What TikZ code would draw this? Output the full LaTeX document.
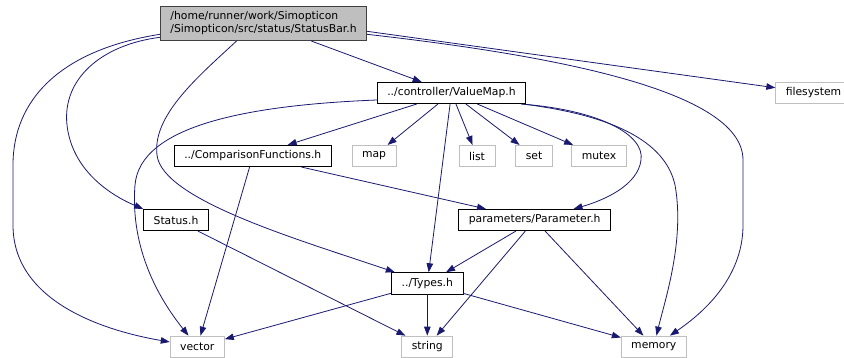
\documentclass[tikz,border=0pt]{standalone}
\usepackage{fontspec}
\setmainfont{DejaVu Sans}
\usetikzlibrary{arrows.meta}
\definecolor{edgeblue}{HTML}{191970}
\definecolor{boxgrey}{HTML}{BFBFBF}
\begin{document}
\begin{tikzpicture}[x=1pt,y=-1pt,
  file/.style={draw=black,fill=white,line width=0.8pt,font=\fontsize{10.8}{13}\selectfont,
    minimum height=21.3pt,inner xsep=10pt,inner ysep=2pt},
  extfile/.style={file,draw=boxgrey},
  dep/.style={draw=edgeblue,line width=0.8pt,-{Triangle[length=9pt,width=6.5pt]}}]
\useasboundingbox (0,0) rectangle (844,358);
% files
\node[file,fill=boxgrey,draw=black!75,align=left,minimum height=34.7pt] (sbar) at (263.5,23.3)
  {/home/runner/work/Simopticon\\/Simopticon/src/status/StatusBar.h};
\node[file] (vmap) at (451.5,93) {../controller/ValueMap.h};
\node[extfile] (fsys) at (813.5,93) {filesystem};
\node[file] (cmpf) at (252.8,156) {../ComparisonFunctions.h};
\node[extfile] (map) at (374,156) {map};
\node[extfile] (list) at (477,156) {list};
\node[extfile] (set) at (534,156) {set};
\node[extfile] (mutex) at (599,156) {mutex};
\node[file] (stat) at (176,220) {Status.h};
\node[file] (param) at (534.7,220) {parameters/Parameter.h};
\node[file] (types) at (427.3,283.3) {../Types.h};
\node[extfile] (vec) at (197.3,346.7) {vector};
\node[extfile] (str) at (427.3,346.7) {string};
\node[extfile] (mem) at (653.8,346.7) {memory};
% includes of StatusBar.h
\draw[dep] (sbar) -- (vmap);
\draw[dep] ([yshift=-8pt]sbar.east) -- (fsys);
\draw[dep] ([yshift=-11pt]sbar.east) .. controls (550,55) and (743,90) .. (743,160)
  -- (743,225) .. controls (743,280) and (700,315) .. (mem);
\draw[dep] ([yshift=-11pt]sbar.west) .. controls (60,50) and (13,100) .. (13,165)
  -- (13,225) .. controls (13,300) and (100,330) .. (vec);
\draw[dep] ([yshift=-14pt]sbar.west) .. controls (100,45) and (62,80) .. (67,125)
  .. controls (72,170) and (110,195) .. (stat.north west);
\draw[dep] ([xshift=-27pt]sbar.south) .. controls (200,75) and (152,115) .. (157,155)
  .. controls (162,200) and (300,240) .. (types);
% includes of ValueMap.h
\draw[dep] (vmap) -- (cmpf);
\draw[dep] (vmap) -- (map);
\draw[dep] (vmap) -- (list);
\draw[dep] (vmap) -- (set);
\draw[dep] (vmap) -- (mutex);
\draw[dep] (vmap) -- (types);
\draw[dep] ([yshift=-7pt]vmap.west) .. controls (250,105) and (140,125) .. (135,185)
  .. controls (130,250) and (160,300) .. (vec);
\draw[dep] ([xshift=-5pt]vmap.south east) .. controls (600,110) and (645,135) .. (641,160)
  .. controls (638,185) and (605,200) .. (param);
\draw[dep] ([xshift=-3pt]vmap.south east) .. controls (610,115) and (665,140) .. (675,185)
  .. controls (685,240) and (665,300) .. (mem);
% the rest
\draw[dep] (cmpf) -- (vec);
\draw[dep] (cmpf) -- (param);
\draw[dep] (stat) -- (str);
\draw[dep] (param) -- (types);
\draw[dep] (param) -- (str);
\draw[dep] (param) -- (mem);
\draw[dep] (types) -- (vec);
\draw[dep] (types) -- (str);
\draw[dep] (types) -- (mem);
\end{tikzpicture}
\end{document}
